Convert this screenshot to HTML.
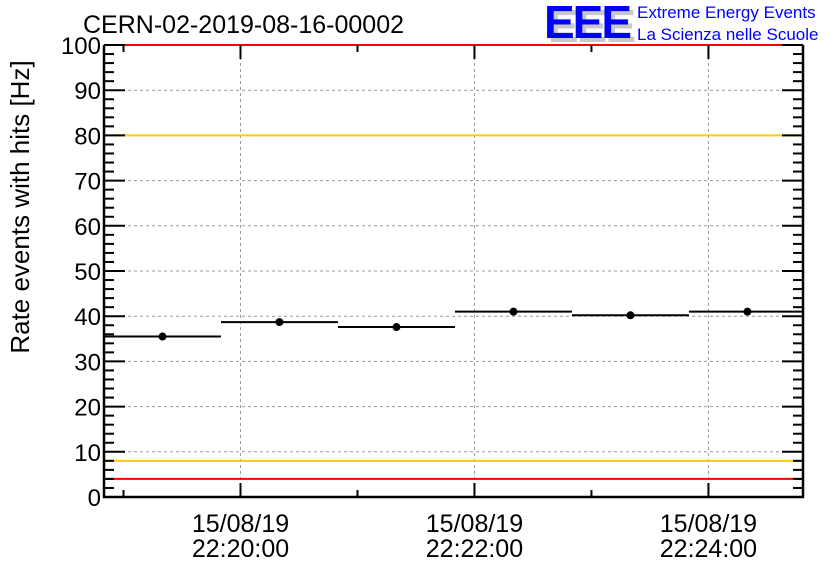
<!DOCTYPE html>
<html><head><meta charset="utf-8"><style>
body{margin:0;background:#fff;}
svg{display:block;font-family:"Liberation Sans",sans-serif;}
</style></head><body>
<svg id="chart" width="836" height="572" viewBox="0 0 836 572">
<text x="83" y="33" font-size="25" fill="#000">CERN-02-2019-08-16-00002</text>
<g>
<text x="548" y="42" font-size="46" font-weight="bold" fill="#c8c8c8" letter-spacing="-2">EEE</text>
<text x="544" y="38" font-size="46" font-weight="bold" fill="#0000ff" letter-spacing="-2">EEE</text>
<text x="637" y="18" font-size="17" fill="#0000ff">Extreme Energy Events</text>
<text x="637" y="40" font-size="17" fill="#0000ff">La Scienza nelle Scuole</text>
</g>
<text transform="translate(29,207) rotate(-90)" text-anchor="middle" font-size="26">Rate events with hits [Hz]</text>
<g id="grid"></g><g id="refs"></g><g id="axes"></g><g id="marks"></g>
</svg>
<script>
const binStarts=[-70,-10,50,110,170,230]; // seconds relative to 22:20:00
const binWidth=60;
const rates=[35.5,38.7,37.6,41.0,40.2,41.0];
const yTicks=[0,10,20,30,40,50,60,70,80,90,100];
const xTickSecs=[0,120,240];
const xTickDates=["15/08/19","15/08/19","15/08/19"];
const xTickTimes=["22:20:00","22:22:00","22:24:00"];
const refLevels=[4,8,80,100];
const refColors=["#ff0000","#ffcc00","#ffcc00","#ff0000"];
const L=104,R=803,T=45,B=497,tMin=-70,tMax=288.5;
const xs=t=>L+(t-tMin)/(tMax-tMin)*(R-L);
const ys=v=>B-v/100*(B-T);
const NS="http://www.w3.org/2000/svg";
function mk(tag,parent,a){const e=document.createElementNS(NS,tag);for(const k in a)e.setAttribute(k,a[k]);document.getElementById(parent).appendChild(e);return e;}
yTicks.forEach(v=>{if(v>0&&v<100){const e=mk('line','grid',{x1:L,x2:R,y1:ys(v),y2:ys(v),stroke:'#999','stroke-dasharray':'3,3','stroke-width':1});

}});
xTickSecs.forEach(t=>{const e=mk('line','grid',{x1:xs(t),x2:xs(t),y1:T,y2:B,stroke:'#999','stroke-dasharray':'3,3','stroke-width':1});

});
refLevels.forEach((v,i)=>{const e=mk('line','refs',{x1:L,x2:R,y1:ys(v),y2:ys(v),stroke:refColors[i],'stroke-width':2});

});
const f=mk('path','axes',{d:`M${L},${T}V${B}H${R}V${T}`,fill:'none',stroke:'#000','stroke-width':2.5});


for(let v=0;v<=100;v+=2){const maj=v%10===0,len=maj?21:10;
mk('line','axes',{x1:L,x2:L+len,y1:ys(v),y2:ys(v),stroke:'#000','stroke-width':2});
mk('line','axes',{x1:R,x2:R-len,y1:ys(v),y2:ys(v),stroke:'#000','stroke-width':2});}
yTicks.forEach(v=>{const e=mk('text','axes',{x:L-3,y:ys(v)+9,'text-anchor':'end','font-size':24});e.textContent=v;

});
for(let t=-60;t<=tMax;t+=60){const maj=t%120===0,len=maj?14:7;
mk('line','axes',{x1:xs(t),x2:xs(t),y1:B,y2:B-len,stroke:'#000','stroke-width':2});
mk('line','axes',{x1:xs(t),x2:xs(t),y1:T,y2:T+len,stroke:'#000','stroke-width':2});}
xTickSecs.forEach((t,i)=>{const a=mk('text','axes',{x:xs(t),y:532,'text-anchor':'middle','font-size':25});a.textContent=xTickDates[i];


const b=mk('text','axes',{x:xs(t),y:557,'text-anchor':'middle','font-size':25});b.textContent=xTickTimes[i];

});
rates.forEach((v,i)=>{const x0=xs(binStarts[i]),x1=xs(Math.min(binStarts[i]+binWidth,tMax)),xc=xs(binStarts[i]+binWidth/2);
const l=mk('line','marks',{x1:x0,x2:x1,y1:ys(v),y2:ys(v),stroke:'#000','stroke-width':2});


const c=mk('circle','marks',{cx:xc,cy:ys(v),r:4,fill:'#000'});

});
</script>
</body></html>
